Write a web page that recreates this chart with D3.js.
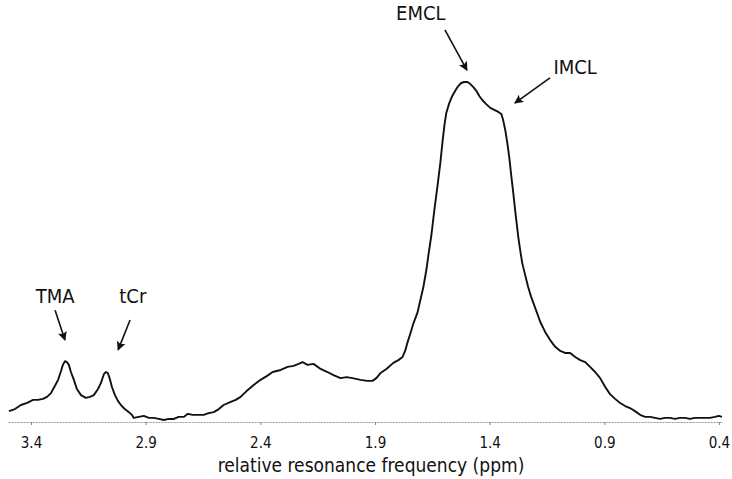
<!DOCTYPE html>
<html>
<head>
<meta charset="utf-8">
<script src="https://cdn.jsdelivr.net/npm/d3@7"></script>
<style>
  html, body { margin: 0; padding: 0; background: #fff; }
  svg { display: block; }
  text { font-family: "DejaVu Sans Condensed", "DejaVu Sans", sans-serif; fill: #111; }
</style>
</head>
<body>
<svg id="chart" width="732" height="479"></svg>
<script>
// chemical shift (ppm) of traced spectrum points
const ppm = [3.496,3.470,3.444,3.417,3.391,3.370,3.348,3.330,3.313,3.296,3.282,3.269,3.261,3.252,3.243,3.235,3.226,3.213,3.200,3.182,
  3.161,3.143,3.126,3.108,3.095,3.082,3.073,3.065,3.056,3.047,3.034,3.021,3.008,2.991,2.973,2.960,2.952,2.930,2.908,2.886,
  2.865,2.843,2.821,2.799,2.777,2.756,2.734,2.716,2.695,2.673,2.647,2.625,2.603,2.581,2.560,2.529,2.507,2.486,2.460,2.429,
  2.399,2.372,2.346,2.311,2.281,2.255,2.233,2.216,2.194,2.168,2.137,2.107,2.081,2.050,2.024,1.998,1.963,1.933,1.911,1.894,
  1.876,1.850,1.820,1.798,1.780,1.767,1.759,1.745,1.732,1.715,1.702,1.689,1.676,1.667,1.654,1.641,1.628,1.615,1.606,1.597,
  1.589,1.576,1.563,1.550,1.537,1.524,1.511,1.497,1.484,1.471,1.458,1.445,1.432,1.415,1.397,1.380,1.362,1.349,1.341,1.332,
  1.323,1.314,1.306,1.297,1.288,1.275,1.267,1.258,1.245,1.232,1.219,1.201,1.179,1.158,1.136,1.114,1.092,1.071,1.049,1.027,
  1.005,0.983,0.962,0.940,0.918,0.896,0.875,0.853,0.831,0.809,0.788,0.766,0.744,0.722,0.700,0.679,0.657,0.635,0.613,0.592,
  0.570,0.548,0.526,0.505,0.483,0.461,0.439,0.418,0.400,0.387];
// signal intensity (relative, EMCL peak = 100)
const intensity = [3.2,3.8,5.0,5.6,6.5,6.5,6.8,7.4,8.5,10.6,12.4,15.0,16.8,17.9,17.6,16.8,14.7,12.4,9.7,7.9,
  7.1,7.4,7.9,9.7,11.5,14.1,14.7,14.4,12.6,10.3,7.9,6.2,5.0,3.8,2.9,2.1,1.2,1.5,1.8,1.2,
  1.2,0.9,0.6,0.9,0.9,1.5,1.5,2.4,2.1,2.1,2.1,2.6,2.9,3.8,5.0,5.9,6.5,7.4,9.1,10.9,
  12.4,13.5,14.7,15.3,16.2,16.5,17.1,17.6,16.8,17.1,15.6,14.7,13.8,12.9,13.2,12.9,12.4,12.1,12.1,12.9,
  14.4,15.6,17.4,18.2,19.1,21.2,23.2,26.2,29.1,32.1,35.9,39.7,44.7,49.1,55.0,62.4,69.1,76.2,82.1,87.4,
  90.9,93.8,95.9,97.4,98.8,99.7,100,100,99.4,98.5,97.4,95.9,94.7,93.5,92.4,91.8,91.2,90.6,88.8,85.9,
  82.1,77.6,72.6,67.4,61.8,54.4,50.6,46.8,43.2,39.7,36.8,33.5,29.4,26.5,24.1,22.1,20.9,20.3,20.3,19.1,
  18.2,17.6,16.2,14.7,12.9,10.3,8.2,6.8,5.6,4.7,4.1,3.2,2.1,1.5,1.5,1.2,0.9,1.2,1.2,0.9,
  1.2,1.2,0.9,1.2,1.2,1.2,1.2,1.5,1.8,1.5];

const tickValues = [3.4, 2.9, 2.4, 1.9, 1.4, 0.9, 0.4];
const tickLabels = ["3.4", "2.9", "2.4", "1.9", "1.4", "0.9", "0.4"];
const xTitle = "relative resonance frequency (ppm)";

// annotations: label, label position, arrow start, arrow tip (ppm, intensity)
const annoLabels = ["TMA", "tCr", "EMCL", "IMCL"];
const annoLabelPos = [[3.295, 35.0], [2.956, 35.0], [1.700, 118.2], [1.027, 102.4]];
const annoFrom = [[3.295, 32.9], [2.968, 30.0], [1.595, 115.3], [1.137, 101.2]];
const annoTo = [[3.252, 24.1], [3.020, 21.2], [1.499, 103.5], [1.290, 93.8]];

const svg = d3.select("#chart");

const x = d3.scaleLinear().domain([3.5, 0.385]).range([8.07, 722.4]);
const y = d3.scaleLinear().domain([0, 100]).range([422, 82]);

// defs: arrowhead
svg.append("defs").append("marker")
  .attr("id", "head")
  .attr("viewBox", "0 0 10 10")
  .attr("refX", 9).attr("refY", 5)
  .attr("markerWidth", 11).attr("markerHeight", 9)
  .attr("markerUnits", "userSpaceOnUse")
  .attr("orient", "auto")
  .append("path").attr("d", "M0,0 L10,5 L0,10 L2,5 Z").attr("fill", "#111");

// axis
const axis = d3.axisBottom(x)
  .tickValues(tickValues)
  .tickFormat((d, i) => tickLabels[i])
  .tickSizeInner(3).tickSizeOuter(0).tickPadding(12);

const gx = svg.append("g").attr("transform", `translate(0,${y(0)})`).call(axis);
gx.select(".domain").attr("stroke", "#999").attr("stroke-width", 1).attr("stroke-dasharray", "2,1");
gx.selectAll(".tick line").attr("stroke", "#888");
gx.selectAll(".tick text")
  .attr("font-family", "'DejaVu Sans Condensed', 'DejaVu Sans', sans-serif")
  .attr("font-size", 15).attr("fill", "#111");

svg.append("text")
  .attr("x", 371)
  .attr("y", 472)
  .attr("text-anchor", "middle")
  .attr("font-size", 19)
  .text(xTitle);

// spectrum line
const data = ppm.map((p, i) => [p, intensity[i]]);
svg.append("path")
  .datum(data)
  .attr("fill", "none")
  .attr("stroke", "#111")
  .attr("stroke-width", 1.9)
  .attr("stroke-linejoin", "round")
  .attr("d", d3.line().x(d => x(d[0])).y(d => y(d[1])));

// annotations
annoLabels.forEach((lab, i) => {
  svg.append("text")
    .attr("x", x(annoLabelPos[i][0]))
    .attr("y", y(annoLabelPos[i][1]))
    .attr("text-anchor", "middle")
    .attr("font-size", 20)
    .text(lab);
  svg.append("line")
    .attr("x1", x(annoFrom[i][0])).attr("y1", y(annoFrom[i][1]))
    .attr("x2", x(annoTo[i][0])).attr("y2", y(annoTo[i][1]))
    .attr("stroke", "#111").attr("stroke-width", 1.6)
    .attr("marker-end", "url(#head)");
});
</script>
</body>
</html>
